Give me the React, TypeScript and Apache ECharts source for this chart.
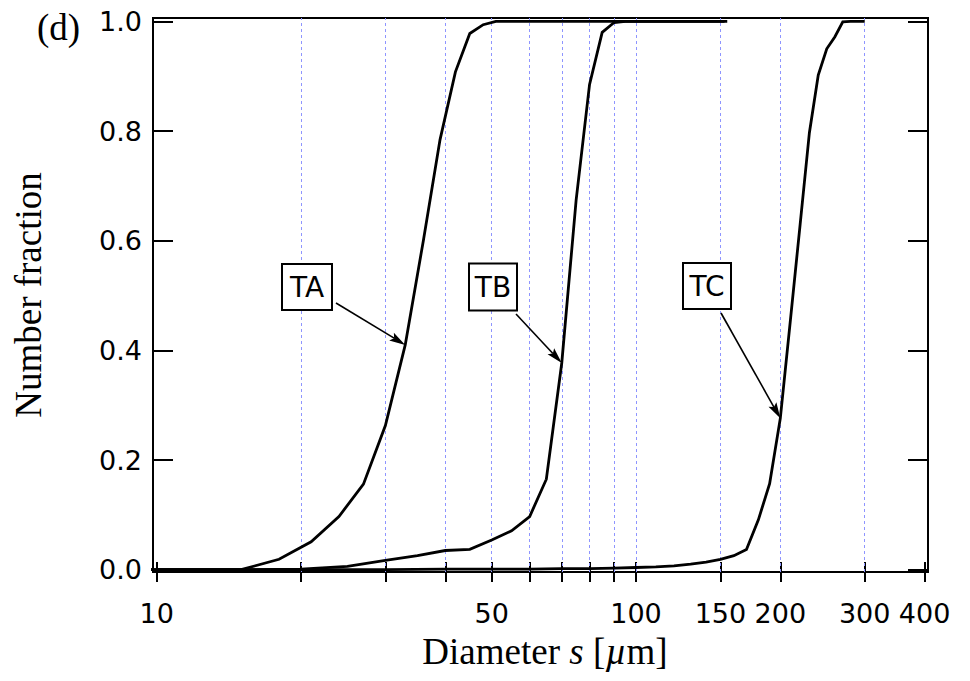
import React, { useEffect, useRef } from 'react';
import * as echarts from 'echarts';

// ---- data (diameter in µm, number fraction) ----
const taSize = [9, 12, 15, 18, 21, 24, 27, 30, 33, 36, 39, 42, 45, 48, 51, 153];
const taFrac = [0, 0, 0, 0.019, 0.051, 0.097, 0.156, 0.263, 0.41, 0.6, 0.784, 0.908, 0.978, 0.994, 1.0, 1.0];

const tbSize = [5, 10, 15, 20, 25, 30, 35, 40, 45, 50, 55, 60, 65, 70, 75, 80, 85, 90, 95, 155];
const tbFrac = [0, 0, 0, 0.001, 0.006, 0.017, 0.0255, 0.035, 0.037, 0.054, 0.071, 0.097, 0.165, 0.377, 0.674, 0.885, 0.98, 0.998, 1.0, 1.0];

const tcSize = [10, 20, 30, 40, 50, 60, 70, 80, 90, 100, 110, 120, 130, 140, 150, 160, 170, 180, 190, 200, 210, 220, 230, 240, 250, 260, 270, 280, 290, 300];
const tcFrac = [0, 0, 0, 0.001, 0.001, 0.001, 0.002, 0.002, 0.003, 0.004, 0.005, 0.007, 0.01, 0.014, 0.019, 0.0255, 0.037, 0.091, 0.157, 0.276, 0.456, 0.63, 0.797, 0.902, 0.95, 0.972, 0.999, 1.0, 1.0, 1.0];

const curveNames = ['TA', 'TB', 'TC'];
const pointerSize = [33, 70, 200];
const pointerFrac = [0.41, 0.377, 0.276];

const xTickValues = [10, 20, 30, 40, 50, 60, 70, 80, 90, 100, 150, 200, 300, 400];
const xLabelValues = [10, 50, 100, 150, 200, 300, 400];
const gridValues = [20, 30, 40, 50, 60, 70, 80, 90, 100, 150, 200, 300];
const yTickValues = [0, 0.2, 0.4, 0.6, 0.8, 1.0];

// ---- layout (pixels) ----
const annotationLayout = [
  { x: 282, y: 264, w: 50, h: 46, sx: 336, sy: 303 },
  { x: 469, y: 263.5, w: 48, h: 47, sx: 516, sy: 314 },
  { x: 683, y: 263, w: 48, h: 46, sx: 721, sy: 313 },
];

const SANS = '"DejaVu Sans", sans-serif';
const SERIF = '"Liberation Serif", "Times New Roman", serif';
const TICK_FONT = 27;
const TITLE_FONT = 37;

function zip(xs: number[], ys: number[]) {
  return xs.map((x, i) => [x, ys[i]]);
}

export default function App() {
  const ref = useRef<HTMLDivElement>(null);
  useEffect(() => {
    const chart = echarts.init(ref.current!, null, { renderer: 'svg' });
    const lineSeries = (name: string, data: number[][], extra: any = {}) => ({
      name,
      type: 'line',
      data,
      symbol: 'none',
      showSymbol: false,
      clip: true,
      silent: true,
      z: 3,
      lineStyle: { color: '#000', width: 2.8, join: 'miter' },
      ...extra,
    });
    chart.setOption({
      animation: false,
      backgroundColor: '#fff',
      title: {
        text: '(d)',
        left: 37,
        top: 9,
        padding: 0,
        textStyle: { fontFamily: SERIF, fontSize: TITLE_FONT, fontWeight: 'normal', color: '#000' },
      },
      grid: {
        left: 153,
        right: 42,
        top: 18,
        bottom: 109,
        show: true,
        borderColor: '#000',
        borderWidth: 2,
        backgroundColor: 'transparent',
      },
      xAxis: [
        {
          type: 'log',
          logBase: 10,
          min: 9.824,
          max: 406.6,
          position: 'bottom',
          offset: -10,
          axisLine: { show: false },
          axisTick: {
            show: true,
            inside: false,
            length: 20,
            customValues: xTickValues,
            lineStyle: { color: '#000', width: 2 },
          },
          minorTick: { show: false },
          splitLine: { show: false },
          axisLabel: {
            customValues: xLabelValues,
            margin: 38,
            color: '#000',
            fontFamily: SANS,
            fontSize: TICK_FONT,
            formatter: (v: number) => String(Math.round(v)),
          },
          name: '{a|Diameter }{b|s}{a| [}{b|\u00b5}{a|m]}',
          nameLocation: 'middle',
          nameGap: 71,
          nameTextStyle: {
            padding: [0, 0, 0, 9],
            rich: {
              a: { fontFamily: SERIF, fontSize: TITLE_FONT, color: '#000' },
              b: { fontFamily: SERIF, fontSize: TITLE_FONT, color: '#000', fontStyle: 'italic' },
            },
          },
        },
      ],
      yAxis: [
        {
          type: 'value',
          min: -0.0042,
          max: 1.0062,
          position: 'left',
          axisLine: { show: true, lineStyle: { color: '#000', width: 2 } },
          axisTick: {
            show: true,
            inside: true,
            length: 20,
            customValues: yTickValues,
            lineStyle: { color: '#000', width: 2 },
          },
          splitLine: { show: false },
          axisLabel: {
            customValues: yTickValues,
            margin: 11,
            color: '#000',
            fontFamily: SANS,
            fontSize: TICK_FONT,
            formatter: (v: number) => v.toFixed(1),
          },
          name: 'Number fraction',
          nameLocation: 'middle',
          nameGap: 106,
          nameTextStyle: { fontFamily: SERIF, fontSize: TITLE_FONT, color: '#000' },
        },
        {
          type: 'value',
          min: -0.0042,
          max: 1.0062,
          position: 'right',
          axisLine: { show: true, lineStyle: { color: '#000', width: 2 } },
          axisTick: {
            show: true,
            inside: true,
            length: 20,
            customValues: yTickValues,
            lineStyle: { color: '#000', width: 2 },
          },
          splitLine: { show: false },
          axisLabel: { show: false },
        },
      ],
      series: [
        lineSeries('TA', zip(taSize, taFrac), {
          markLine: {
            silent: true,
            z: 1,
            symbol: ['none', 'none'],
            label: { show: false },
            lineStyle: { color: '#8e95ff', width: 1, type: [3, 3] },
            emphasis: { disabled: true },
            data: gridValues.map((v) => ({ xAxis: v })),
          },
        }),
        lineSeries('TB', zip(tbSize, tbFrac)),
        lineSeries('TC', zip(tcSize, tcFrac)),
      ],
    });

    const g: any[] = [];
    curveNames.forEach((name, i) => {
      const p = chart.convertToPixel({ xAxisIndex: 0, yAxisIndex: 0 }, [pointerSize[i], pointerFrac[i]]) as number[];
      const tx = p[0];
      const ty = p[1];
      const b = annotationLayout[i];
      const dx = tx - b.sx;
      const dy = ty - b.sy;
      const L = Math.hypot(dx, dy);
      const ux = dx / L;
      const uy = dy / L;
      const head = 16;
      const hw = 4.5;
      const bx = tx - ux * head;
      const by = ty - uy * head;
      g.push({
        type: 'line',
        z: 10,
        shape: { x1: b.sx, y1: b.sy, x2: bx + ux * 3, y2: by + uy * 3 },
        style: { stroke: '#000', lineWidth: 1.6 },
      });
      g.push({
        type: 'polygon',
        z: 10,
        shape: { points: [[tx, ty], [bx - uy * hw, by + ux * hw], [bx + ux * 3, by + uy * 3], [bx + uy * hw, by - ux * hw]] },
        style: { fill: '#000' },
      });
      g.push({
        type: 'rect',
        z: 10,
        shape: { x: b.x, y: b.y, width: b.w, height: b.h },
        style: { fill: '#fff', stroke: '#000', lineWidth: 2 },
      });
      g.push({
        type: 'text',
        z: 11,
        x: b.x + b.w / 2,
        y: b.y + b.h / 2,
        style: {
          text: name,
          fill: '#000',
          fontFamily: SANS,
          fontSize: 28,
          align: 'center',
          verticalAlign: 'middle',
        },
      });
    });
    chart.setOption({ graphic: g });

    return () => chart.dispose();
  }, []);
  return <div ref={ref} style={{ position: 'fixed', left: 0, top: 0, width: 970, height: 681 }} />;
}
